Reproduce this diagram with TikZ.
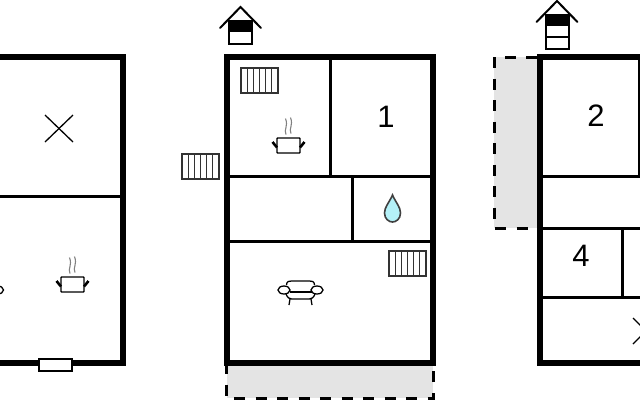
\documentclass[tikz,border=0pt]{standalone}
\usepackage{fontspec}
\setmainfont{Liberation Sans}
\definecolor{terrace}{HTML}{E4E4E4}
\definecolor{water}{HTML}{B4F1F8}
\tikzset{
  outerwall/.style={line width=5.2pt, line cap=rect},
  innerwall/.style={line width=3pt},
  terracedash/.style={line width=3pt, dash pattern=on 11pt off 10.5pt},
  roomnum/.style={font=\fontsize{31}{31}\selectfont},
  icon/.style={line width=1.3pt},
  pics/radiator/.style={code={
    \draw[line width=1.1pt, draw=black!80, fill=white] (0,0) rectangle (37,25);
    \foreach \i in {1,...,5} \draw[line width=0.9pt, draw=black!80] (6.17*\i,0) -- (6.17*\i,25);
  }},
  pics/pot/.style={code={
    \draw[line width=1.4pt, fill=white, rounded corners=0.6pt] (-11.5,-7.5) rectangle (11.5,7.5);
    \draw[line width=2.6pt] (-11.5,2) -- (-16,-3.5);
    \draw[line width=2.6pt] (11.5,2) -- (16,-3.5);
    \draw[line width=1.1pt, gray] (-2.5,-11) .. controls (-5,-16) and (0,-19) .. (-3,-27);
    \draw[line width=1.1pt, gray] (2.5,-12) .. controls (0,-17) and (5,-20) .. (2,-28);
  }},
  pics/sofa/.style={code={
    \draw[icon] (-14,-5) .. controls (-14,-9) and (-11,-9) .. (-9,-9) -- (9,-9) .. controls (11,-9) and (14,-9) .. (14,-5);
    \draw[icon] (-11,2) -- (11,2);
    \draw[icon] (-15,3) .. controls (-13,8) and (-11,9) .. (-9,9) -- (9,9) .. controls (11,9) and (13,8) .. (15,3);
    \draw[icon, fill=white] (-16.5,0) ellipse (6 and 4);
    \draw[icon, fill=white] (16.5,0) ellipse (6 and 4);
    \draw[icon] (-10.5,9) -- (-11.5,15);
    \draw[icon] (10.5,9) -- (11.5,15);
  }},
  pics/roof/.style={code={
    \draw[line width=2pt, line cap=round] (-20.5,21) -- (0,0) -- (20.5,21);
  }}
}
\begin{document}
\begin{tikzpicture}[x=1pt, y=-1pt]
  \useasboundingbox (0,0) rectangle (640,400);

  % Terraces
  \fill[terrace] (227,363) rectangle (433,398);
  \fill[terrace] (494,57) rectangle (540,228);
  \draw[terracedash, dash phase=3pt] (226,366) -- (226,398) -- (433,398) -- (433,366);
  \draw[terracedash] (537,57) -- (494,57) -- (494,228) -- (537,228);

  % Left floor
  \draw[outerwall] (-5,57) -- (123,57) -- (123,363) -- (-5,363);
  \draw[innerwall] (0,196) -- (123,196);
  \draw[line width=1.2pt, fill=white] (39,359) rectangle (72,371);
  \draw[icon] (45,115) -- (73,142);
  \draw[icon] (73,115) -- (45,142);
  \pic at (72.5,284.5) {pot};
  \pic at (-19,290) {sofa};

  % Middle floor
  \draw[outerwall] (227,57) rectangle (433,363);
  \draw[innerwall] (330,57) -- (330,176);
  \draw[innerwall] (227,176) -- (433,176);
  \draw[innerwall] (352,176) -- (352,241);
  \draw[innerwall] (227,241) -- (433,241);
  \node[roomnum] at (386,117) {1};
  \pic at (241,68) {radiator};
  \pic at (182,154) {radiator};
  \pic at (389,251) {radiator};
  \pic at (288.5,145.5) {pot};
  \pic at (300.5,290) {sofa};
  \draw[line width=1.6pt, fill=water, draw=black!75] (392.5,195) .. controls (396,203) and (400.5,207) .. (400.5,213) .. controls (400.5,219) and (396,222) .. (392.5,222) .. controls (389,222) and (384.5,219) .. (384.5,213) .. controls (384.5,207) and (389,203) .. (392.5,195) -- cycle;

  % Entrance, middle floor
  \pic at (240.5,7) {roof};
  \fill (229,21) rectangle (252,32);
  \draw[line width=2.4pt] (229,21) rectangle (252,44);

  % Right floor
  \draw[outerwall] (645,57) -- (540,57) -- (540,363) -- (645,363);
  \draw[innerwall] (639,57) -- (639,176);
  \draw[innerwall] (540,176) -- (640,176);
  \draw[innerwall] (540,228) -- (640,228);
  \draw[innerwall] (622,228) -- (622,297);
  \draw[innerwall] (540,297) -- (640,297);
  \node[roomnum] at (596,116) {2};
  \node[roomnum] at (581,256) {4};
  \draw[icon] (633,318) -- (659,344);
  \draw[icon] (633,344) -- (659,318);

  % Entrance, right floor
  \pic at (557,1) {roof};
  \fill (546,15) rectangle (569,26);
  \draw[line width=2.4pt] (546,15) rectangle (569,49);
  \draw[line width=1.5pt] (546,37) -- (569,37);
\end{tikzpicture}
\end{document}
